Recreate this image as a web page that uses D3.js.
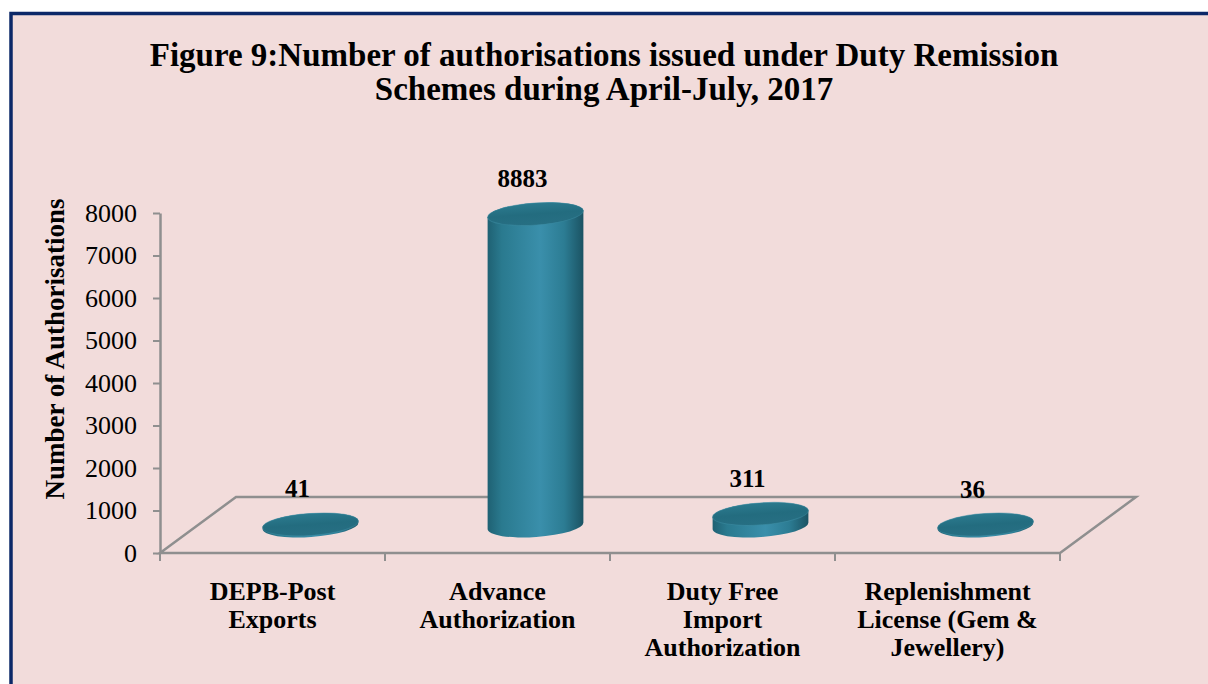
<!DOCTYPE html>
<html>
<head>
<meta charset="utf-8">
<script src="https://cdn.jsdelivr.net/npm/d3@7"></script>
<style>
  html, body { margin: 0; padding: 0; background: #ffffff; }
  svg { display: block; }
  text { font-family: "Liberation Serif", "Times New Roman", serif; fill: #000; }
</style>
</head>
<body>
<svg id="chart" width="1208" height="684"></svg>
<script>
// data
var categories = ["DEPB-Post Exports", "Advance Authorization", "Duty Free Import Authorization", "Replenishment License (Gem & Jewellery)"];
var categoryLines = [["DEPB-Post", "Exports"], ["Advance", "Authorization"], ["Duty Free", "Import", "Authorization"], ["Replenishment", "License (Gem &", "Jewellery)"]];
var values = [41, 8883, 311, 36];
var yTicks = [0, 1000, 2000, 3000, 4000, 5000, 6000, 7000, 8000];
var titleLines = ["Figure 9:Number of authorisations issued under Duty Remission", "Schemes during April-July, 2017"];
var yTitle = "Number of Authorisations";

const opts = {
  width: 1208,
  height: 684,
  left: 160,
  right: 1060,
  bottom: 553,
  top: 213,
  depthX: 76,
  depthY: -56,
  barH: 312,     // pixel height of 8000 at the bars' depth
  rx: 48,
  ry: 11,
  tilt: -4,
  axisColor: "#8f8f8f"
};

var svg = d3.select("#chart");
var defs = svg.append("defs");

// panel
svg.append("rect")
  .attr("x", 11).attr("y", 13.5)
  .attr("width", 1210).attr("height", 690)
  .attr("fill", "#f2dcdb")
  .attr("stroke", "#0c2868")
  .attr("stroke-width", 3.5);

// title
svg.append("g").selectAll("text").data(titleLines).enter().append("text")
  .attr("x", 604)
  .attr("y", function(d, i){ return 66 + i * 34; })
  .attr("text-anchor", "middle")
  .attr("font-weight", "bold")
  .attr("font-size", 33)
  .text(function(d){ return d; });

var x = d3.scaleBand().domain(categories).range([opts.left, opts.right]);
var y = d3.scaleLinear().domain([0, 8000]).range([opts.bottom, opts.top]);
var h = d3.scaleLinear().domain([0, 8000]).range([0, opts.barH]).clamp(true);

// floor
var fx = opts.depthX, fy = opts.depthY;
var floor = [
  [opts.left, opts.bottom], [opts.left + fx, opts.bottom + fy],
  [opts.right + fx, opts.bottom + fy], [opts.right, opts.bottom]
];
svg.append("path")
  .attr("d", d3.line()(floor) + "Z")
  .attr("fill", "none")
  .attr("stroke", opts.axisColor)
  .attr("stroke-width", 2.5);

// category ticks on the front edge
var edges = categories.map(function(c){ return x(c); }).concat([opts.right]);
svg.append("g").selectAll("line").data(edges).enter().append("line")
  .attr("x1", function(d){ return d; }).attr("x2", function(d){ return d; })
  .attr("y1", opts.bottom).attr("y2", opts.bottom + 8)
  .attr("stroke", opts.axisColor).attr("stroke-width", 2);

// y axis
var yAxis = svg.append("g")
  .attr("transform", "translate(" + opts.left + ",0)")
  .call(d3.axisLeft(y).tickValues(yTicks).tickFormat(d3.format("d"))
    .tickSize(7).tickSizeOuter(0).tickPadding(16));
yAxis.select(".domain").attr("stroke", opts.axisColor).attr("stroke-width", 2.5);
yAxis.selectAll(".tick line").attr("stroke", opts.axisColor).attr("stroke-width", 2);
yAxis.selectAll(".tick text")
  .attr("font-size", 26)
  .attr("fill", "#000");

svg.append("text")
  .attr("transform", "translate(64,349) rotate(-90)")
  .attr("text-anchor", "middle")
  .attr("font-weight", "bold")
  .attr("font-size", 27)
  .text(yTitle);

// category labels
var cat = svg.append("g").selectAll("text").data(categories).enter().append("text")
  .attr("x", function(d){ return x(d) + x.bandwidth() / 2; })
  .attr("y", 600)
  .attr("text-anchor", "middle")
  .attr("font-weight", "bold")
  .attr("font-size", 26);
cat.each(function(d, i){
  d3.select(this).selectAll("tspan").data(categoryLines[i]).enter().append("tspan")
    .attr("x", x(d) + x.bandwidth() / 2)
    .attr("dy", function(t, j){ return j ? 28 : 0; })
    .text(function(t){ return t; });
});

// gradients
var side = defs.append("linearGradient").attr("id", "side").attr("x1", 0).attr("x2", 1).attr("y1", 0).attr("y2", 0);
[[0, "#1f6173"], [0.15, "#2a7a8f"], [0.55, "#3a8fab"], [0.8, "#2c7c93"], [1, "#1b5363"]].forEach(function(s){
  side.append("stop").attr("offset", s[0]).attr("stop-color", s[1]);
});
var cap = defs.append("linearGradient").attr("id", "cap").attr("x1", 0).attr("x2", 0).attr("y1", 0).attr("y2", 1);
[[0, "#2b7a8e"], [0.5, "#236c7f"], [1, "#276f83"]].forEach(function(s){
  cap.append("stop").attr("offset", s[0]).attr("stop-color", s[1]);
});

// cylinders
var t = opts.tilt * Math.PI / 180;
var ex = opts.rx * Math.cos(t), ey = opts.rx * Math.sin(t);
var bars = svg.append("g").selectAll("g").data(values).enter().append("g");
function cx(d, i){ return x(categories[i]) + x.bandwidth() / 2 + fx / 2; }
var baseY = opts.bottom + fy / 2 + 1;
bars.append("path")
  .attr("fill", "url(#side)")
  .attr("d", function(d, i){
    var c = cx(d, i), top = baseY - h(d);
    var arc = " A" + opts.rx + " " + opts.ry + " " + opts.tilt + " 0 0 ";
    return "M" + (c - ex) + "," + (top - ey) +
      " L" + (c - ex) + "," + (baseY - ey) +
      arc + (c + ex) + "," + (baseY + ey) +
      " L" + (c + ex) + "," + (top + ey) +
      arc + (c - ex) + "," + (top - ey) + "Z";
  });
bars.append("ellipse")
  .attr("cx", 0).attr("cy", 0)
  .attr("rx", opts.rx).attr("ry", opts.ry)
  .attr("transform", function(d, i){
    return "translate(" + cx(d, i) + "," + (baseY - h(d)) + ") rotate(" + opts.tilt + ")";
  })
  .attr("fill", "url(#cap)")
  .attr("stroke", "#3d8ea3")
  .attr("stroke-opacity", 0.5)
  .attr("stroke-width", 1);

// value labels
bars.append("text")
  .attr("x", function(d, i){ return cx(d, i) - 13; })
  .attr("y", function(d){ return baseY - h(d) - 27; })
  .attr("text-anchor", "middle")
  .attr("font-weight", "bold")
  .attr("font-size", 25)
  .text(function(d){ return d; });
</script>
</body>
</html>
